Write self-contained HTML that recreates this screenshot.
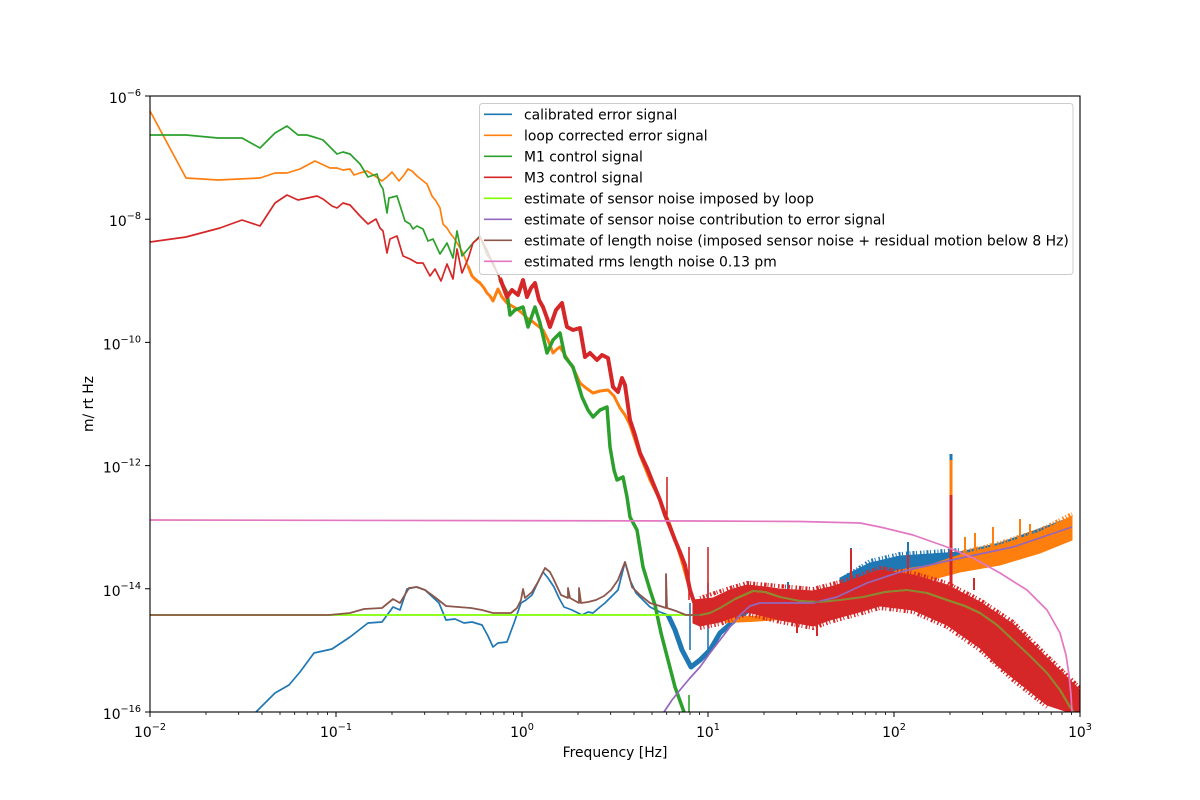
<!DOCTYPE html>
<html><head><meta charset="utf-8"><style>
html,body{margin:0;padding:0;background:#fff;}
svg{display:block;}
text{font-family:"DejaVu Sans","Liberation Sans",sans-serif;fill:#000;}
</style></head><body>
<svg width="1200" height="800" viewBox="0 0 1200 800" xmlns="http://www.w3.org/2000/svg">
<defs><clipPath id="ax"><rect x="150" y="96" width="930" height="616"/></clipPath></defs>
<rect x="0" y="0" width="1200" height="800" fill="#fff"/>
<g clip-path="url(#ax)" fill="none" stroke-linejoin="round" stroke-linecap="butt">
<!-- blue calibrated error -->
<polyline stroke="#1f77b4" stroke-width="1.7" points="256,712 265,703 275,693 289,685 300,672 314,653 332,649 350,637 368,623 382,622 393,607 400,610 407,589 416,587 425,590 439,603 446,620 455,619 464,623 472,622 482,625 488,636 493,647 498,643 507,642 514,623 521,603 526,600 532,595 538,582 543,572 548,578 554,587 559,598 564,607 572,610 582,615 588,612 593,613 600,607 605,603 611,597 618,590 625,562 630,580 636,593 643,600 650,607 660,612 668,615"/>
<polyline stroke="#1f77b4" stroke-width="5" points="668,615 675,630 682,650 691,667 700,660 710,650 720,633 735,620 753,607 780,602 810,602 840,588"/>
<polygon fill="#1f77b4" stroke="#1f77b4" stroke-width="1" points="840,578 870,563 900,556 930,554 960,552 1000,543 1072,517 1072,540 1000,560 960,568 930,572 900,576 870,585 840,595"/>
<polyline stroke="#1f77b4" stroke-width="4" stroke-dasharray="1 2 2 1.5 1 3 1.5 2" points="845,577 870,561 900,554 930,552 960,550"/>
<polyline stroke="#1f77b4" stroke-width="1.6" points="690,650 690,603"/>
<polyline stroke="#1f77b4" stroke-width="1.6" points="708,650 708,583"/>
<polyline stroke="#1f77b4" stroke-width="2" points="788,600 788,582"/>
<polyline stroke="#1f77b4" stroke-width="2" points="851,590 851,548"/>
<polyline stroke="#1f77b4" stroke-width="2" points="908,570 908,542"/>
<polyline stroke="#1f77b4" stroke-width="3" points="951,560 951,454"/>
<!-- orange loop corrected -->
<polyline stroke="#ff7f0e" stroke-width="1.7" points="150,111 186,178 218,180 260,178 275,173 287,173 300,169 315,161 330,168 337,168 343,170 350,169 354,175 360,173 367,171 375,176 382,181 387,177 392,172 399,181 404,175 408,169 412,171 417,176 422,180 427,184 432,196 436,201 440,208 443,224 447,228 450,233 454,238 457,243 460,248 463,253 468,266"/>
<polyline stroke="#ff7f0e" stroke-width="3" points="468,266 472,276 476,280 480,283 484,288 487,293 490,296 493,301 498,289 502,297 507,303 512,306 517,309 522,313 527,318 533,322 538,326 543,330 548,340 553,353 557,349 560,347 565,355 570,363 575,372 580,383 586,388 593,393 600,391 608,390 614,396 620,408 625,415 630,425 640,455 650,480 660,500 670,525 680,555 690,590 695,605"/>
<polyline stroke="#ff7f0e" stroke-width="6" points="725,620 750,619 780,617"/>
<polygon fill="#ff7f0e" stroke="#ff7f0e" stroke-width="1" points="880,575 900,570 930,565 960,555 1000,545 1040,532 1072,516 1072,540 1040,553 1000,565 960,572 930,580 900,585 880,588"/>
<polyline stroke="#ff7f0e" stroke-width="4" stroke-dasharray="1 2 2 1.5 1 3 1.5 2" points="960,553 1000,543 1040,530 1072,514"/>
<polyline stroke="#ff7f0e" stroke-width="2" points="965,560 965,537"/>
<polyline stroke="#ff7f0e" stroke-width="2" points="975,558 975,533"/>
<polyline stroke="#ff7f0e" stroke-width="2" points="993,553 993,527"/>
<polyline stroke="#ff7f0e" stroke-width="2" points="1020,545 1020,519"/>
<polyline stroke="#ff7f0e" stroke-width="2" points="1030,540 1030,524"/>
<polyline stroke="#ff7f0e" stroke-width="3" points="951,560 951,460"/>
<!-- green M1 -->
<polyline stroke="#2ca02c" stroke-width="1.7" points="150,135 186,135 218,138 242,138 260,148 275,133 287,126 298,135 307,135 317,138 323,140 332,149 337,154 343,152 350,154 360,164 368,177 377,174 380,184 383,189 387,213 389,198 397,196 405,221 410,224 413,229 417,226 423,229 428,241 433,239 440,254 447,243 453,258 457,231 462,256 468,249 473,243 480,236 487,255 493,262 500,280"/>
<polyline stroke="#2ca02c" stroke-width="3.5" points="500,280 507,293 510,315 515,310 523,307 528,327 535,307 540,323 547,353 553,340 560,333 565,357 573,367 582,397 588,410 593,417 600,410 607,407 610,447 614,470 617,480 623,477 627,497 630,517 637,530 643,567 650,590 655,605 661,633 668,660 675,687 684,712"/>
<polyline stroke="#2ca02c" stroke-width="1.6" points="689,695 689,712"/>
<!-- red M3 -->
<polyline stroke="#d62728" stroke-width="1.7" points="150,242 186,237 220,228 242,220 260,226 275,203 287,195 298,200 317,196 323,199 332,206 337,208 343,203 350,205 360,216 368,224 376,219 380,228 383,231 387,253 390,239 397,236 403,256 410,259 417,263 423,263 430,276 435,269 441,281 447,264 453,279 457,249 462,273 468,259 473,243 480,237 487,250 493,265 500,278"/>
<polyline stroke="#d62728" stroke-width="4" points="500,278 507,297 512,290 518,295 523,280 527,297 531,288 535,283 539,300 543,307 547,318 550,327 556,310 562,303 565,318 567,327 573,330 580,328 585,357 590,353 597,360 602,355 608,358 613,387 618,392 622,378 625,385 630,420 635,435 640,453 647,468 653,483 660,500 665,515 670,527 675,540 680,552 685,565 690,590 695,605"/>
<polyline stroke="#d62728" stroke-width="1.6" points="667,515 667,477"/>
<polygon fill="#d62728" stroke="#d62728" stroke-width="1" points="693,600 713,598 730,590 747,585 765,587 780,589 813,591 830,587 847,582 880,570 913,575 947,585 980,602 1013,624 1047,658 1080,690 1080,712 1068,712 1047,705 1013,678 997,665 980,648 947,625 913,610 880,606 863,611 830,620 813,626 780,620 747,612 720,622 700,626 693,623"/>
<polyline stroke="#d62728" stroke-width="4" stroke-dasharray="1 2 2 1.5 1 3 1.5 2 2.5 1" points="700,598 730,588 747,583 780,586 813,589 847,580 880,568 913,573 947,583 980,600 1013,622 1047,656 1080,688"/>
<polyline stroke="#d62728" stroke-width="4" stroke-dasharray="1.5 2 1 3 2 1.5 1 2.5" points="700,628 720,624 747,614 780,622 813,628 830,622 863,613 880,608 913,612 947,627 980,650 1013,680 1047,707"/>
<polyline stroke="#d62728" stroke-width="1.6" points="689,600 689,547"/>
<polyline stroke="#d62728" stroke-width="1.6" points="708,600 708,547"/>
<polyline stroke="#d62728" stroke-width="2" points="797,620 797,633"/>
<polyline stroke="#d62728" stroke-width="2" points="817,620 817,636"/>
<polyline stroke="#d62728" stroke-width="2" points="851,590 851,549"/>
<polyline stroke="#d62728" stroke-width="2" points="908,580 908,555"/>
<polyline stroke="#d62728" stroke-width="2" points="974,590 974,578"/>
<polyline stroke="#d62728" stroke-width="3" points="951,590 951,495"/>
<!-- chartreuse sensor noise imposed -->
<polyline stroke="#7fff00" stroke-width="1.8" points="150,615 690,615 700,615 710,613 720,608 735,599 753,591 765,592 780,597 800,601 820,602 840,600 863,597 885,592 907,590 927,593 947,600 965,606 980,613 997,625 1013,640 1030,656 1047,673 1060,690 1070,707 1074,712"/>
<!-- purple sensor noise contribution -->
<polyline stroke="#9467bd" stroke-width="1.7" points="664,712 672,700 680,690 690,678 700,667 710,653 720,640 730,627 740,615 750,606 760,603 780,603 813,603 837,597 867,583 900,572 947,561 1013,547 1072,527"/>
<!-- brown length noise -->
<polyline stroke="#8c564b" stroke-width="1.8" points="150,615 329,615 350,613 364,609 382,608 393,599 400,603 409,588 417,587 425,590 436,598 446,606 458,607 471,608 482,610 493,613 511,613 517,608 521,600 523,589 525,598 532,592 538,582 545,568 550,572 554,580 561,595 568,598 568,588 570,598 579,603 579,588 581,603 588,602 596,600 604,596 611,590 618,580 625,562 628,572 632,587 640,595 650,603 660,606 666,608 666,574 667,608 676,611 686,615 700,615"/>
<polyline stroke="#8c564b" stroke-opacity="0.7" stroke-width="1.7" points="700,615 710,613 720,608 735,599 753,591 765,592 780,597 800,601 820,602 840,600 863,597 885,592 907,590 927,593 947,600 965,606 980,613 997,625 1013,640 1030,656 1047,673 1060,690 1070,707 1074,712"/>
<!-- pink rms -->
<polyline stroke="#e377c2" stroke-width="1.7" points="150,520 700,521 800,521.5 860,523 880,527 913,535 947,547 973,558 1000,573 1027,590 1047,610 1060,633 1066,655 1069,675 1071,695 1072,712"/>
</g>
<!-- axes frame -->
<rect x="150" y="96" width="930" height="616" fill="none" stroke="#000" stroke-width="1.1"/>
<!-- x ticks -->
<g stroke="#000" stroke-width="1">
<path d="M150,712v5M336,712v5M522,712v5M708,712v5M894,712v5M1080,712v5"/>
<path stroke-width="0.8" d="M206,712v3M238.7,712v3M262,712v3M280,712v3M294.7,712v3M307.2,712v3M318,712v3M327.5,712v3M392,712v3M424.7,712v3M448,712v3M466,712v3M480.7,712v3M493.2,712v3M504,712v3M513.5,712v3M578,712v3M610.7,712v3M634,712v3M652,712v3M666.7,712v3M679.2,712v3M690,712v3M699.5,712v3M764,712v3M796.7,712v3M820,712v3M838,712v3M852.7,712v3M865.2,712v3M876,712v3M885.5,712v3M950,712v3M982.7,712v3M1006,712v3M1024,712v3M1038.7,712v3M1051.2,712v3M1062,712v3M1071.5,712v3"/>
<path d="M145,96h5M145,219.2h5M145,342.4h5M145,465.6h5M145,588.8h5M145,712h5"/>
</g>
<!-- x tick labels -->
<g font-size="13.9" text-anchor="middle">
<text x="150" y="737">10<tspan font-size="9.7" dy="-7">−2</tspan></text>
<text x="336" y="737">10<tspan font-size="9.7" dy="-7">−1</tspan></text>
<text x="522" y="737">10<tspan font-size="9.7" dy="-7">0</tspan></text>
<text x="708" y="737">10<tspan font-size="9.7" dy="-7">1</tspan></text>
<text x="894" y="737">10<tspan font-size="9.7" dy="-7">2</tspan></text>
<text x="1080" y="737">10<tspan font-size="9.7" dy="-7">3</tspan></text>
</g>
<!-- y tick labels -->
<g font-size="13.9" text-anchor="end">
<text x="141" y="103">10<tspan font-size="9.7" dy="-7">−6</tspan></text>
<text x="141" y="226.2">10<tspan font-size="9.7" dy="-7">−8</tspan></text>
<text x="141" y="349.4">10<tspan font-size="9.7" dy="-7">−10</tspan></text>
<text x="141" y="472.6">10<tspan font-size="9.7" dy="-7">−12</tspan></text>
<text x="141" y="595.8">10<tspan font-size="9.7" dy="-7">−14</tspan></text>
<text x="141" y="719">10<tspan font-size="9.7" dy="-7">−16</tspan></text>
</g>
<text x="615" y="757" font-size="13.9" text-anchor="middle">Frequency [Hz]</text>
<text transform="translate(93,404) rotate(-90)" font-size="13.9" text-anchor="middle">m/ rt Hz</text>
<!-- legend -->
<rect x="479.5" y="103.5" width="593.5" height="171" rx="3" fill="#fff" fill-opacity="0.8" stroke="#ccc" stroke-width="1"/>
<g stroke-width="1.7">
<line x1="484" y1="114.3" x2="512" y2="114.3" stroke="#1f77b4"/>
<line x1="484" y1="135.3" x2="512" y2="135.3" stroke="#ff7f0e"/>
<line x1="484" y1="156.3" x2="512" y2="156.3" stroke="#2ca02c"/>
<line x1="484" y1="177.3" x2="512" y2="177.3" stroke="#d62728"/>
<line x1="484" y1="198.3" x2="512" y2="198.3" stroke="#7fff00"/>
<line x1="484" y1="219.3" x2="512" y2="219.3" stroke="#9467bd"/>
<line x1="484" y1="240.3" x2="512" y2="240.3" stroke="#8c564b"/>
<line x1="484" y1="261.3" x2="512" y2="261.3" stroke="#e377c2"/>
</g>
<g font-size="13.9">
<text x="524" y="119.3">calibrated error signal</text>
<text x="524" y="140.3">loop corrected error signal</text>
<text x="524" y="161.3">M1 control signal</text>
<text x="524" y="182.3">M3 control signal</text>
<text x="524" y="203.3">estimate of sensor noise imposed by loop</text>
<text x="524" y="224.3">estimate of sensor noise contribution to error signal</text>
<text x="524" y="245.3">estimate of length noise (imposed sensor noise + residual motion below 8 Hz)</text>
<text x="524" y="266.3">estimated rms length noise 0.13 pm</text>
</g>
</svg>
</body></html>
